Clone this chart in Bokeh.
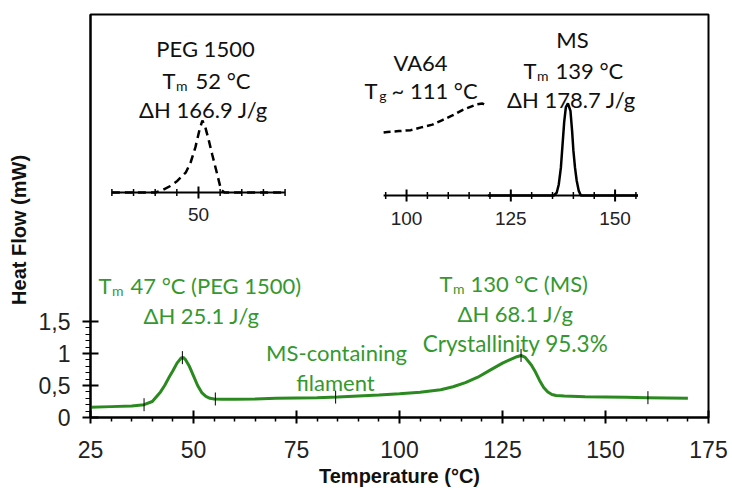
import numpy as np
from bokeh.plotting import figure
from bokeh.models import Range1d, FixedTicker, Label
from bokeh.core.properties import value
from bokeh.embed import file_html
from bokeh.resources import INLINE

# ---------------- data ----------------
# DSC trace of the MS-containing filament (temperature °C, heat flow mW)
filament_T = [25, 30, 35, 38, 40, 42, 43, 44, 45, 46, 47, 47.5, 48, 49, 50, 51, 52, 53, 54, 55,
              57, 60, 65, 70, 75, 80, 85, 90, 95, 100, 105, 110, 113, 116, 119, 122, 125, 127,
              128.5, 129.5, 130.5, 132, 133, 134, 135, 136, 137, 138, 140, 145, 150, 155, 160,
              165, 170]
filament_hf = [0.16, 0.17, 0.18, 0.20, 0.25, 0.40, 0.50, 0.62, 0.73, 0.85, 0.93, 0.94, 0.91, 0.80,
               0.65, 0.50, 0.39, 0.33, 0.30, 0.29, 0.285, 0.285, 0.29, 0.30, 0.305, 0.31, 0.32,
               0.335, 0.35, 0.37, 0.395, 0.435, 0.48, 0.545, 0.63, 0.74, 0.85, 0.91, 0.95, 0.97,
               0.94, 0.82, 0.71, 0.58, 0.47, 0.40, 0.36, 0.345, 0.335, 0.325, 0.32, 0.315, 0.31,
               0.305, 0.30]
# integration limits / peak markers on the filament trace
marker_T = [38, 47.3, 55.3, 84.5, 129.5, 160.3]

x_major_ticks = [25, 50, 75, 100, 125, 150, 175]
y_major_ticks = [0, 0.5, 1, 1.5]
y_tick_labels = ["0", "0,5", "1", "1,5"]

# inset 1: PEG 1500 (dashed)
peg_T = [30, 35, 40, 41.6, 43.5, 45.1, 47.1, 48.2, 49.3, 50.2, 50.9, 51.6, 52.4, 53.2, 54.3, 55.2,
         56, 60, 65, 70]
peg_hf = [0, 0, 0, 0.03, 0.09, 0.16, 0.28, 0.42, 0.63, 0.86, 1.0, 0.9, 0.72, 0.52, 0.26, 0.04,
          0, 0, 0, 0]
inset1_major = [50]
inset1_minor = [30, 35, 40, 45, 55, 60, 65, 70]

# inset 2: VA64 (dashed) and MS (solid)
va64_T = [94.5, 95.4, 98.2, 101, 103.5, 106.2, 108.6, 111, 113.5, 116.8, 118.2, 119.4]
va64_hf = [0.685, 0.69, 0.70, 0.71, 0.74, 0.77, 0.82, 0.87, 0.93, 0.99, 1.0, 0.97]
ms_T = [119.5, 130, 135.3, 136, 136.5, 137, 137.4, 137.8, 138.2, 138.7, 139.3, 139.7, 140, 140.4,
        140.8, 141.3, 141.8, 145, 150, 155.5]
ms_hf = [0, 0, 0, 0.03, 0.12, 0.30, 0.55, 0.80, 0.96, 1.0, 0.92, 0.70, 0.49, 0.30, 0.16, 0.05,
         0, 0, 0, 0]
inset2_major = [100, 125, 150]
inset2_minor = [95, 105, 110, 115, 120, 130, 135, 140, 145, 155]

GREEN_LINE = "#2b8a1f"
GREEN_TEXT = "#34982f"
TXT_FONT = "Lato"
AX_FONT = "Liberation Sans"

# ---------------- figure ----------------
W, H = 732, 490
p = figure(width=W, height=H, output_backend="svg", toolbar_location=None,
           x_range=Range1d(25, 175), y_range=Range1d(0, 6.3),
           min_border_left=90, min_border_right=24, min_border_top=14, min_border_bottom=73)
p.xgrid.visible = False
p.ygrid.visible = False
p.outline_line_color = "black"
p.outline_line_width = 2
p.outline_line_alpha = 1
p.background_fill_color = "white"
p.border_fill_color = "white"

# inset ranges (frame spans px 90..708 horizontally, 14..417 vertically)
p.extra_x_ranges = {"i1x": Range1d(25.06, 167.8), "i2x": Range1d(24.22, 172.4)}
p.extra_y_ranges = {"i1y": Range1d(-3.125, 2.472), "i2y": Range1d(-2.413, 1.967)}

xa = p.xaxis[0]
x_minor = [t for t in range(25, 176, 5) if t not in x_major_ticks]
xa.ticker = FixedTicker(ticks=x_major_ticks, minor_ticks=x_minor)
xa.major_tick_in = 7
xa.major_tick_out = 6
xa.minor_tick_in = 0
xa.minor_tick_out = 4
xa.axis_line_width = 2
xa.major_tick_line_width = 2
xa.minor_tick_line_width = 1.5
xa.major_label_text_font = AX_FONT
xa.major_label_text_font_size = "23px"
xa.major_label_text_color = "#222222"
xa.major_label_standoff = 17
xa.axis_label = "Temperature (°C)"
xa.axis_label_text_font = AX_FONT
xa.axis_label_text_font_style = "bold"
xa.axis_label_text_font_size = "20px"
xa.axis_label_text_color = "#111111"
xa.axis_label_standoff = 4

ya = p.yaxis[0]
y_minor = [round(v, 1) for v in np.arange(0.1, 1.5, 0.1) if round(v, 1) not in y_major_ticks]
ya.ticker = FixedTicker(ticks=y_major_ticks, minor_ticks=y_minor)
ya.major_label_overrides = {t: lab for t, lab in zip(y_major_ticks, y_tick_labels)}
ya.major_tick_in = 8
ya.major_tick_out = 8
ya.minor_tick_in = 0
ya.minor_tick_out = 5
ya.axis_line_width = 2
ya.major_tick_line_width = 2
ya.minor_tick_line_width = 1.2
ya.major_label_text_font = AX_FONT
ya.major_label_text_font_size = "23px"
ya.major_label_text_color = "#222222"
ya.major_label_standoff = 12
# trailing no-break spaces push the visible title a little below the frame centre
ya.axis_label = "Heat Flow (mW)" + "\u00a0" * 5
ya.axis_label_text_font = AX_FONT
ya.axis_label_text_font_style = "bold"
ya.axis_label_text_font_size = "20px"
ya.axis_label_text_color = "#111111"
ya.axis_label_standoff = 6

# ---------------- main trace ----------------
p.line(filament_T, filament_hf, line_color=GREEN_LINE, line_width=3)
marker_hf = np.interp(marker_T, filament_T, filament_hf)
p.scatter(marker_T, marker_hf, marker="dash", angle=np.pi / 2, size=13,
          line_color="black", line_width=1)

# ---------------- inset 1 ----------------
i1_axis = [min(inset1_minor + inset1_major), max(inset1_minor + inset1_major)]
p.line(i1_axis, [0, 0], x_range_name="i1x", y_range_name="i1y", line_color="black", line_width=2)
p.scatter(inset1_minor, [0] * len(inset1_minor), x_range_name="i1x", y_range_name="i1y",
          marker="dash", angle=np.pi / 2, size=7, line_color="black", line_width=1.5)
p.scatter(inset1_major, [0] * len(inset1_major), x_range_name="i1x", y_range_name="i1y",
          marker="dash", angle=np.pi / 2, size=12, line_color="black", line_width=2)
p.text(inset1_major, [0] * len(inset1_major), text=[str(t) for t in inset1_major],
       x_range_name="i1x", y_range_name="i1y", y_offset=22,
       text_align="center", text_baseline="middle", text_font=value(AX_FONT),
       text_font_size="19px", text_color="#222222")
p.line(peg_T, peg_hf, x_range_name="i1x", y_range_name="i1y", line_color="black",
       line_width=2.5, line_dash="8 5")

# ---------------- inset 2 ----------------
i2_all = inset2_minor + inset2_major
p.line([min(i2_all) - 0.5, max(i2_all) + 0.5], [0, 0], x_range_name="i2x", y_range_name="i2y",
       line_color="black", line_width=2)
p.scatter(inset2_minor, [0] * len(inset2_minor), x_range_name="i2x", y_range_name="i2y",
          marker="dash", angle=np.pi / 2, size=7, line_color="black", line_width=1.5)
p.scatter(inset2_major, [0] * len(inset2_major), x_range_name="i2x", y_range_name="i2y",
          marker="dash", angle=np.pi / 2, size=12, line_color="black", line_width=2)
p.text(inset2_major, [0] * len(inset2_major), text=[str(t) for t in inset2_major],
       x_range_name="i2x", y_range_name="i2y", y_offset=23,
       text_align="center", text_baseline="middle", text_font=value(AX_FONT),
       text_font_size="19px", text_color="#222222")
p.line(va64_T, va64_hf, x_range_name="i2x", y_range_name="i2y", line_color="black",
       line_width=2.5, line_dash="7 4")
p.line(ms_T, ms_hf, x_range_name="i2x", y_range_name="i2y", line_color="black", line_width=2.5)


# ---------------- annotations ----------------
def px_x(px):
    return 25 + (px - 90) / 4.12


def py_y(py):
    return (417 - py) / 64.0


def add_line(px, py, text, color, size=22, align="center"):
    p.add_layout(Label(x=px_x(px), y=py_y(py), text=text, text_color=color,
                       text_font=TXT_FONT, text_font_size=f"{size}px", text_align=align,
                       text_baseline="alphabetic"))


def add_sub_line(px_boundary, py, main, sub, rest, color, size=22, sub_size=14, sub_w=12, gap=7):
    # subscript ends at the boundary, main letter before it, the rest follows after a gap
    add_line(px_boundary + gap, py, rest, color, size, align="left")
    add_line(px_boundary, py + 5, sub, color, sub_size, align="right")
    add_line(px_boundary - sub_w, py, main, color, size, align="right")


# inset 1 texts
add_line(205, 48, "PEG 1500", "#111111")
add_sub_line(187, 80, "T", "m", "52 °C", "#111111", gap=8)
add_line(203, 109, "ΔH 166.9 J/g", "#111111")
# inset 2 texts
add_line(420, 62, "VA64", "#111111")
add_sub_line(386, 90, "T", "g", "~ 111 °C", "#111111", sub_w=9, gap=5)
add_line(572, 39, "MS", "#111111")
add_sub_line(548, 70, "T", "m", "139 °C", "#111111")
add_line(571, 99, "ΔH 178.7 J/g", "#111111")
# green texts
add_sub_line(123, 285, "T", "m", "47 °C (PEG 1500)", GREEN_TEXT)
add_line(201, 315, "ΔH 25.1 J/g", GREEN_TEXT)
add_line(336, 352, "MS-containing", GREEN_TEXT)
add_line(335, 382, "filament", GREEN_TEXT)
add_sub_line(464, 283, "T", "m", "130 °C (MS)", GREEN_TEXT, gap=6)
add_line(515, 313, "ΔH 68.1 J/g", GREEN_TEXT)
add_line(515, 343, "Crystallinity 95.3%", GREEN_TEXT, size=22.5)

open("out.html", "w").write(file_html(p, INLINE))
